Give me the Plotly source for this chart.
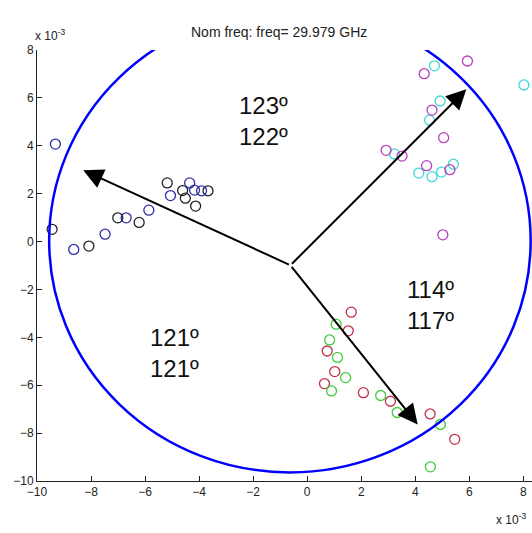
import plotly.graph_objects as go

# ---- data (x, y in units of 1e-3) ----
black_x = [-5.18, -4.61, -4.51, -4.13, -3.67, -7.01, -6.22, -9.44, -8.08]
black_y = [2.45, 2.13, 1.81, 1.48, 2.12, 0.99, 0.80, 0.51, -0.19]
blue_x = [-4.35, -5.06, -4.17, -3.91, -5.86, -6.70, -7.48, -8.64, -9.32]
blue_y = [2.45, 1.92, 2.15, 2.12, 1.31, 0.99, 0.31, -0.33, 4.07]
cyan_x = [4.71, 8.02, 4.92, 4.53, 3.23, 4.13, 4.62, 4.97, 5.41]
cyan_y = [7.34, 6.54, 5.87, 5.07, 3.66, 2.86, 2.71, 2.90, 3.23]
magenta_x = [4.33, 5.93, 4.62, 5.05, 2.92, 3.51, 4.42, 5.28, 5.02]
magenta_y = [7.01, 7.54, 5.49, 4.34, 3.81, 3.57, 3.17, 3.00, 0.28]
red_x = [1.63, 1.52, 0.74, 1.02, 0.64, 2.08, 3.08, 4.55, 5.46]
red_y = [-2.95, -3.73, -4.57, -5.43, -5.93, -6.31, -6.67, -7.20, -8.26]
green_x = [1.07, 0.83, 1.12, 1.42, 0.90, 2.72, 3.33, 4.93, 4.56]
green_y = [-3.45, -4.11, -4.84, -5.68, -6.24, -6.43, -7.14, -7.64, -9.41]

arrow_origin = (-0.62, -0.99)
arrow_tip_x = [5.89, -8.29, 4.09]
arrow_tip_y = [6.36, 2.98, -7.64]

circle_box = (-9.55, 8.27, -9.64, 9.70)

label_texts = ["123º<br>122º", "121º<br>121º", "114º<br>117º"]
label_x = [-1.60, -4.90, 4.55]
label_y = [5.04, -4.64, -2.66]

xticks = [-10, -8, -6, -4, -2, 0, 2, 4, 6, 8]
yticks = [-10, -8, -6, -4, -2, 0, 2, 4, 6, 8]
title_text = "Nom freq: freq= 29.979 GHz"
exp_text = "x 10<sup>-3</sup>"

FONT = "Liberation Sans, Arial, sans-serif"

W, H = 532, 533
ml, mr, mt, mb = 37, 0, 50, 52
pw, ph = W - ml - mr, H - mt - mb


def px_to_paper(px, py):
    return (px - ml) / pw, (H - mb - py) / ph


fig = go.Figure()

series = [
    (black_x, black_y, "#222222"),
    (blue_x, blue_y, "#2e2ea8"),
    (cyan_x, cyan_y, "#3fd8d8"),
    (magenta_x, magenta_y, "#bb3fbb"),
    (red_x, red_y, "#c23048"),
    (green_x, green_y, "#3fcc3f"),
]
for xs, ys, col in series:
    fig.add_trace(go.Scatter(
        x=xs, y=ys, mode="markers",
        marker=dict(symbol="circle-open", size=10, color=col, line=dict(width=1.3, color=col)),
        showlegend=False, hoverinfo="skip", cliponaxis=False,
    ))

fig.add_shape(type="circle", xref="x", yref="y",
              x0=circle_box[0], x1=circle_box[1], y0=circle_box[2], y1=circle_box[3],
              line=dict(color="#0000ff", width=2.5), layer="above")

for tx, ty in zip(arrow_tip_x, arrow_tip_y):
    fig.add_annotation(
        x=tx, y=ty, xref="x", yref="y",
        ax=arrow_origin[0], ay=arrow_origin[1], axref="x", ayref="y",
        showarrow=True, arrowhead=2, arrowsize=2.0, arrowwidth=2, arrowcolor="black", text="",
    )
for t, lx, ly in zip(label_texts, label_x, label_y):
    fig.add_annotation(
        x=lx, y=ly, xref="x", yref="y", text=t, showarrow=False,
        xanchor="center", yanchor="middle",
        font=dict(family=FONT, size=24, color="#111111"), align="center",
    )

tx_, ty_ = px_to_paper(279, 32)
fig.add_annotation(x=tx_, y=ty_, xref="paper", yref="paper", showarrow=False,
                   xanchor="center", yanchor="middle",
                   text=title_text, font=dict(family=FONT, size=14, color="#222222"))

for px, py in [(50, 35), (511, 519)]:
    xp, yp = px_to_paper(px, py)
    fig.add_annotation(x=xp, y=yp, xref="paper", yref="paper", showarrow=False,
                       xanchor="center", yanchor="middle",
                       text=exp_text, font=dict(family=FONT, size=12, color="#222222"))

fig.update_layout(
    width=W, height=H,
    margin=dict(l=ml, r=mr, t=mt, b=mb),
    plot_bgcolor="white", paper_bgcolor="white",
    xaxis=dict(range=[-10, -10 + pw / 27.02], tickvals=xticks, ticks="inside", ticklen=5,
               tickcolor="#222222", showline=True, linecolor="#222222", linewidth=1,
               showgrid=False, zeroline=False, automargin=False,
               tickfont=dict(family=FONT, size=12, color="#222222")),
    yaxis=dict(range=[-10, 8], tickvals=yticks, ticks="inside", ticklen=5,
               tickcolor="#222222", showline=True, linecolor="#222222", linewidth=1,
               showgrid=False, zeroline=False, automargin=False,
               tickfont=dict(family=FONT, size=12, color="#222222")),
)

fig.write_html("out.html", config={"displayModeBar": False},
               post_script="document.body.style.margin='0';document.body.style.overflow='hidden';")
